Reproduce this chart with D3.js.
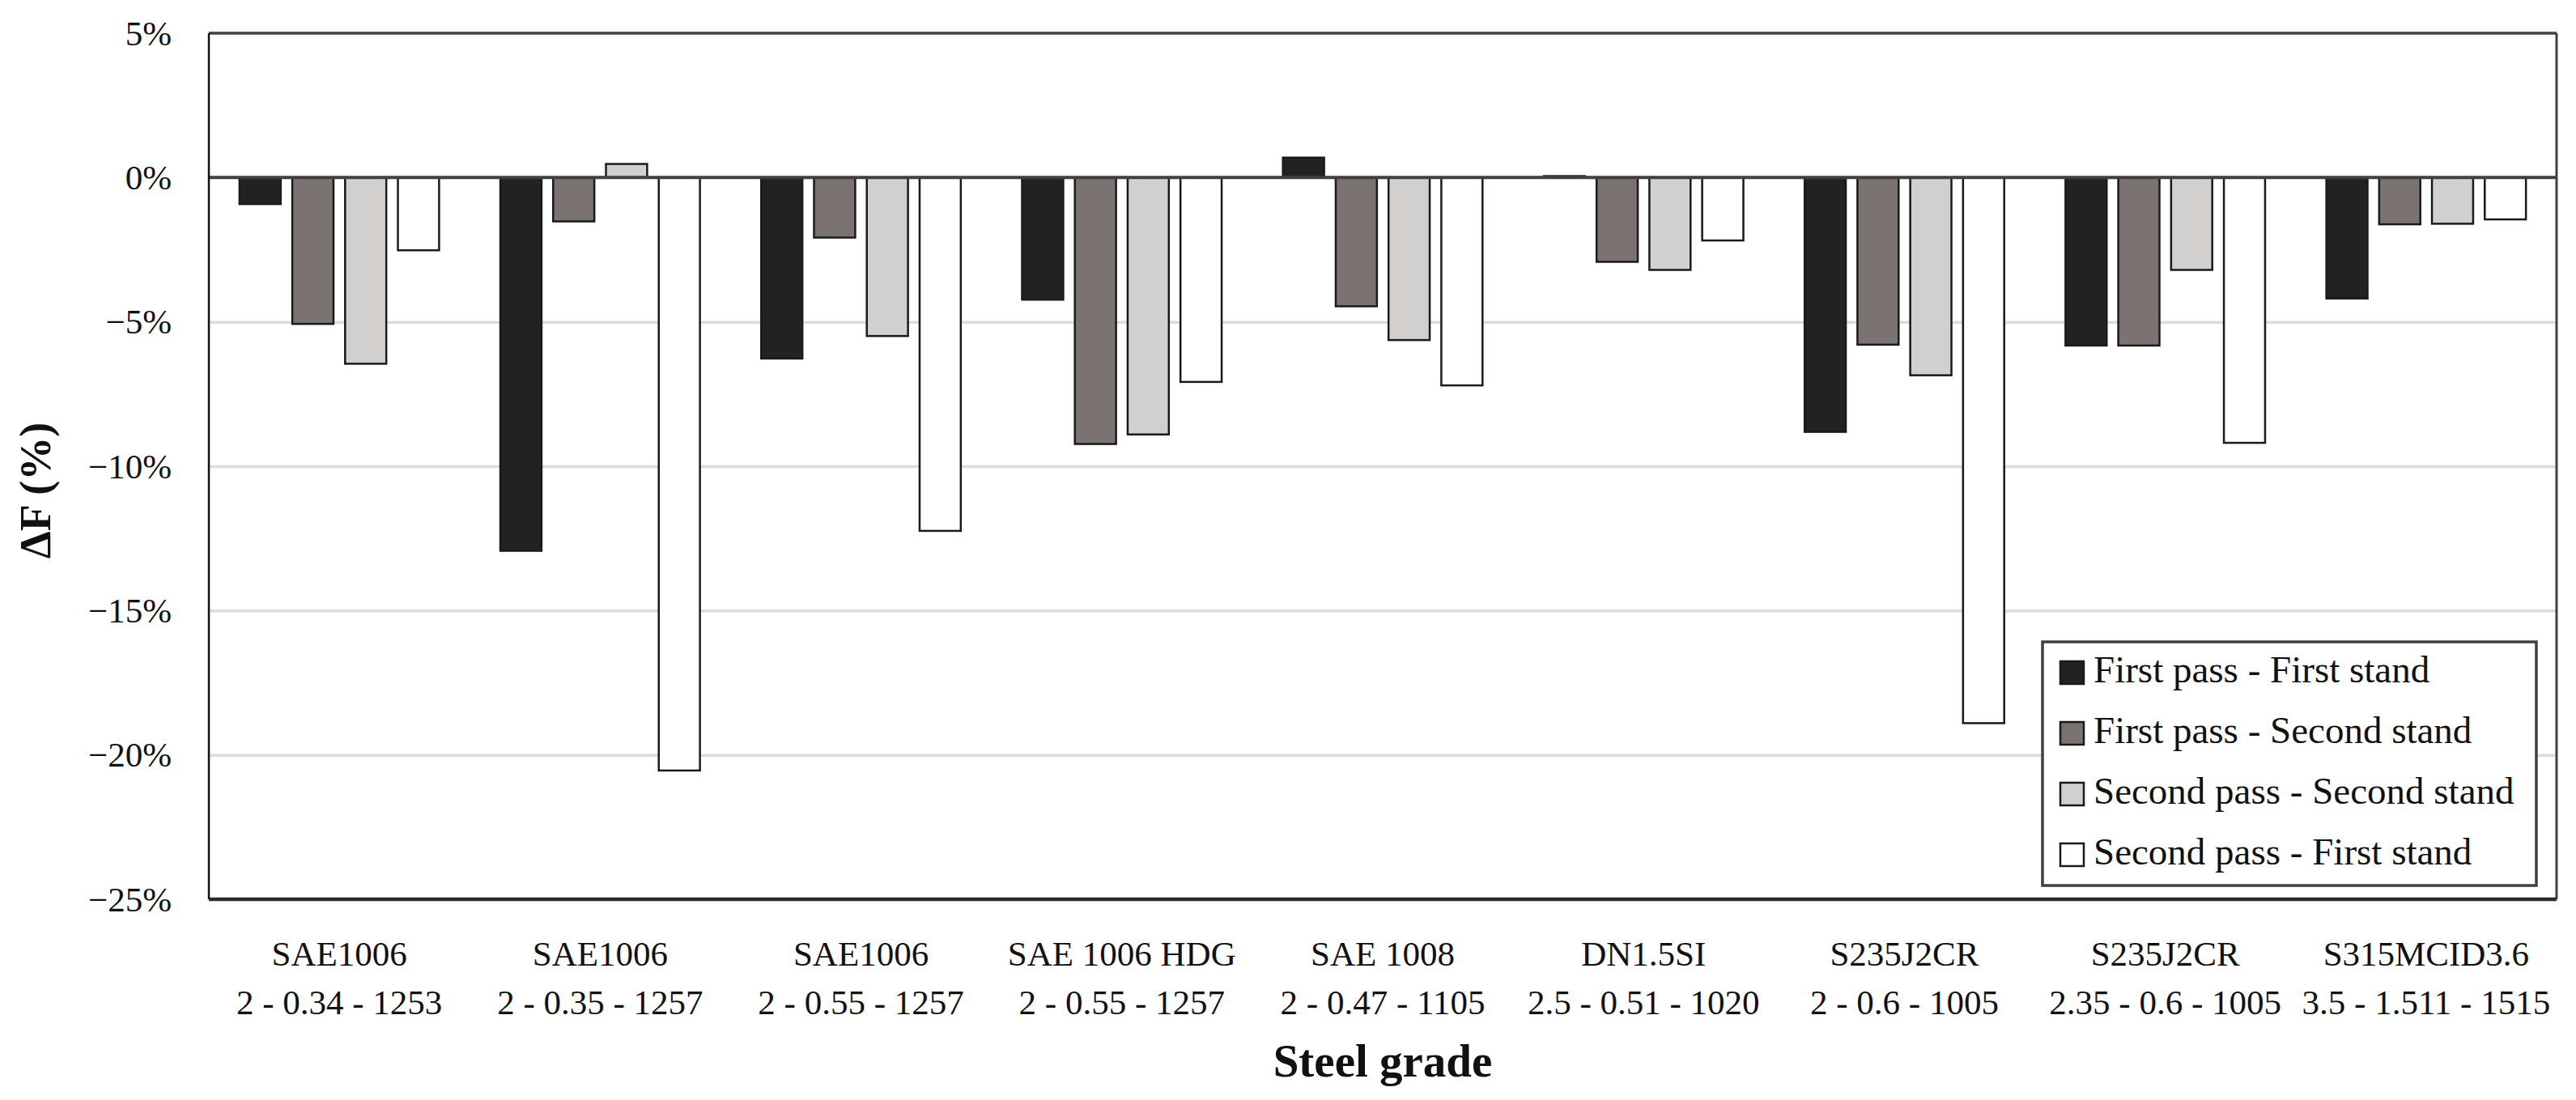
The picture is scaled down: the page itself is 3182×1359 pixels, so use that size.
<!DOCTYPE html>
<html>
<head>
<meta charset="utf-8">
<script src="https://cdn.jsdelivr.net/npm/d3@7"></script>
<style>
  body { margin: 0; background: #fff; }
  svg text { font-family: "Liberation Serif", "DejaVu Serif", serif; fill: #111; }
</style>
</head>
<body>
<div id="chart"></div>
<script>
// steel grade names and the process line below each one
const grades = ["SAE1006", "SAE1006", "SAE1006", "SAE 1006 HDG", "SAE 1008", "DN1.5SI", "S235J2CR", "S235J2CR", "S315MCID3.6"];
const gradeDetails = ["2 - 0.34 - 1253", "2 - 0.35 - 1257", "2 - 0.55 - 1257", "2 - 0.55 - 1257", "2 - 0.47 - 1105", "2.5 - 0.51 - 1020", "2 - 0.6 - 1005", "2.35 - 0.6 - 1005", "3.5 - 1.511 - 1515"];

const seriesNames = ["First pass - First stand", "First pass - Second stand", "Second pass - Second stand", "Second pass - First stand"];
const seriesColors = ["#222222", "#7a7372", "#d1d0ce", "#ffffff"];

// ΔF values in %
const firstPassFirstStand   = [-0.92, -12.93, -6.27, -4.23,  0.69,  0.05, -8.81, -5.82, -4.19];
const firstPassSecondStand  = [-5.07,  -1.52, -2.08, -9.23, -4.46, -2.92, -5.79, -5.82, -1.62];
const secondPassSecondStand = [-6.45,   0.47, -5.49, -8.90, -5.63, -3.20, -6.85, -3.20, -1.60];
const secondPassFirstStand  = [-2.52, -20.54, -12.24, -7.08, -7.20, -2.18, -18.90, -9.19, -1.45];

const yTicks = [5, 0, -5, -10, -15, -20, -25];

const series = [firstPassFirstStand, firstPassSecondStand, secondPassSecondStand, secondPassFirstStand];

const W = 3182, H = 1359;
const margin = {top: 41, right: 24, bottom: 248, left: 258};
const width = W - margin.left - margin.right,
      height = H - margin.top - margin.bottom;

const svg = d3.select("#chart")
  .append("svg")
    .attr("width", W)
    .attr("height", H)
    .style("background", "#fff")
  .append("g")
    .attr("transform", "translate(" + margin.left + "," + margin.top + ")");

const y = d3.scaleLinear().domain([-25, 5]).range([height, 0]);
const x0 = d3.scaleBand().domain(d3.range(grades.length)).range([0, width]);
const x1 = d3.scaleBand().domain(d3.range(seriesNames.length))
  .range([0, x0.bandwidth()]).paddingInner(0.22).paddingOuter(0.58);

// gridlines
svg.append("g")
  .call(d3.axisLeft(y).tickValues(yTicks.filter(d => d < 0 && d > -25)).tickSize(-width).tickFormat(""))
  .call(g => g.select(".domain").remove())
  .selectAll("line").attr("stroke", "#dcdcdc").attr("stroke-width", 3.5);

// y axis labels
svg.append("g")
  .call(d3.axisLeft(y).tickValues(yTicks).tickSize(0).tickPadding(46)
    .tickFormat(d => (d < 0 ? "\u2212" : "") + Math.abs(d) + "%"))
  .call(g => g.select(".domain").remove())
  .selectAll("text")
    .attr("font-size", "43px")
    .attr("dy", "0.33em")
    .attr("fill", "#111");

// bars
const groups = svg.append("g").selectAll("g")
  .data(grades)
  .join("g")
    .attr("transform", (d, i) => "translate(" + x0(i) + ",0)");

groups.selectAll("rect")
  .data((d, i) => series.map((s, k) => ({k: k, v: s[i]})))
  .join("rect")
    .attr("x", d => x1(d.k))
    .attr("width", x1.bandwidth())
    .attr("y", d => y(Math.max(0, d.v)))
    .attr("height", d => Math.abs(y(d.v) - y(0)))
    .attr("fill", d => seriesColors[d.k])
    .attr("stroke", "#1a1a1a")
    .attr("stroke-width", 2.5);

// zero line
svg.append("line")
  .attr("x1", 0).attr("x2", width)
  .attr("y1", y(0)).attr("y2", y(0))
  .attr("stroke", "#404040").attr("stroke-width", 4);

// plot frame
svg.append("line").attr("x1", 0).attr("x2", width).attr("y1", 0).attr("y2", 0)
  .attr("stroke", "#404040").attr("stroke-width", 3.5);
svg.append("line").attr("x1", width).attr("x2", width).attr("y1", 0).attr("y2", height)
  .attr("stroke", "#404040").attr("stroke-width", 3);
svg.append("line").attr("x1", 0).attr("x2", width).attr("y1", height).attr("y2", height)
  .attr("stroke", "#2a2a2a").attr("stroke-width", 4.5);
svg.append("line").attr("x1", 0).attr("x2", 0).attr("y1", 0).attr("y2", height)
  .attr("stroke", "#111").attr("stroke-width", 2.5);

// x axis category labels (two lines)
const xAxis = svg.append("g")
  .attr("transform", "translate(0," + height + ")")
  .call(d3.axisBottom(x0).tickSize(0).tickFormat(""))
  .call(g => g.select(".domain").remove());

xAxis.selectAll(".tick text").remove();
xAxis.selectAll(".tick").append("text")
  .attr("text-anchor", "middle")
  .attr("font-size", "43px")
  .attr("fill", "#111")
  .each(function(d) {
    const t = d3.select(this);
    t.append("tspan").attr("x", 0).attr("y", 82).text(grades[d]);
    t.append("tspan").attr("x", 0).attr("y", 142).text(gradeDetails[d]);
  });

// axis titles
svg.append("text")
  .attr("x", width / 2)
  .attr("y", height + 219)
  .attr("text-anchor", "middle")
  .attr("font-size", "57px")
  .attr("font-weight", "bold")
  .text("Steel grade");

svg.append("text")
  .attr("transform", "rotate(-90)")
  .attr("x", -(height / 2) - 30)
  .attr("y", -margin.left + 62)
  .attr("text-anchor", "middle")
  .attr("font-size", "54px")
  .attr("font-weight", "bold")
  .text("\u0394F (%)");

// legend
const lx = 2523 - margin.left, ly = 793 - margin.top;
const legend = svg.append("g").attr("transform", "translate(" + lx + "," + ly + ")");
legend.append("rect")
  .attr("width", 610).attr("height", 301)
  .attr("fill", "#fff")
  .attr("stroke", "#404040").attr("stroke-width", 3.5);

const items = legend.selectAll(".item")
  .data(seriesNames)
  .join("g")
    .attr("class", "item")
    .attr("transform", (d, i) => "translate(22," + (24 + i * 75) + ")");

items.append("rect")
  .attr("width", 29).attr("height", 28)
  .attr("fill", (d, i) => seriesColors[i])
  .attr("stroke", "#1a1a1a").attr("stroke-width", 2.5);

items.append("text")
  .attr("x", 41)
  .attr("y", 26)
  .attr("font-size", "47px")
  .text(d => d);
</script>
</body>
</html>
